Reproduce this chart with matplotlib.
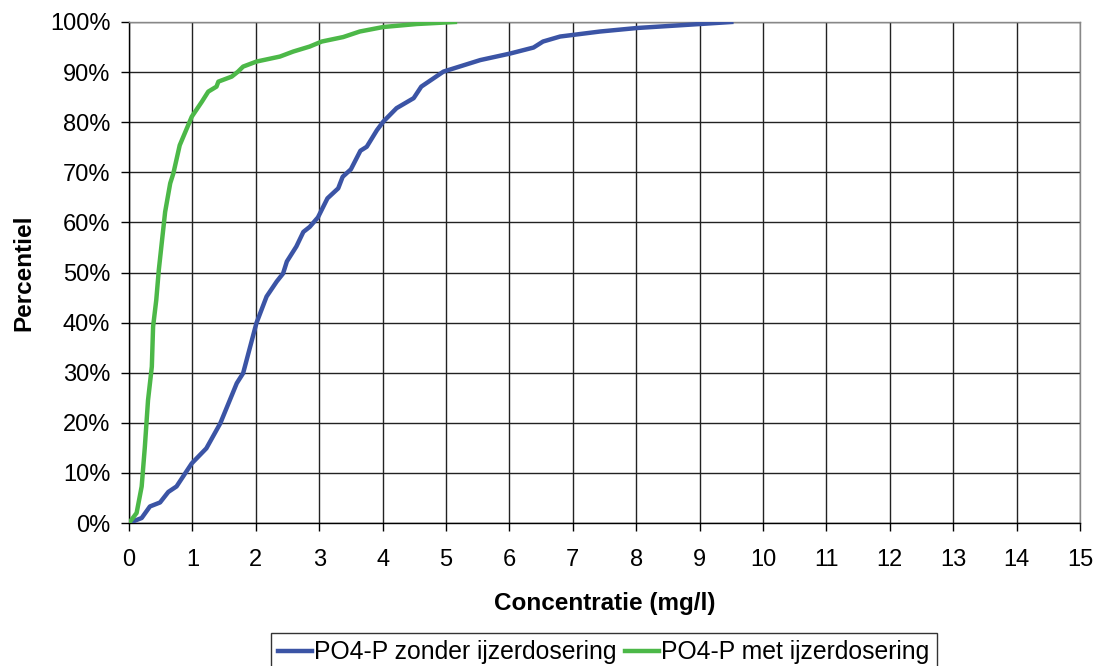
import matplotlib
matplotlib.use("Agg")
import matplotlib.pyplot as plt
from matplotlib.ticker import FuncFormatter

plt.rcParams['font.family'] = ['Liberation Sans', 'DejaVu Sans']

# Cumulative distribution of PO4-P concentration (mg/l) vs percentile (%)
zonder_conc = [0.0, 0.2, 0.33, 0.49, 0.62, 0.75, 0.99, 1.22, 1.44, 1.70, 1.80,
               2.01, 2.17, 2.33, 2.43, 2.49, 2.64, 2.75, 2.85, 2.98, 3.13, 3.30,
               3.37, 3.50, 3.65, 3.75, 3.91, 4.01, 4.22, 4.49, 4.61, 4.96, 5.54,
               6.01, 6.38, 6.53, 6.80, 7.43, 8.01, 9.01, 9.50]
zonder_pct = [0.0, 1.0, 3.3, 4.1, 6.2, 7.3, 11.9, 14.9, 19.9, 27.9, 29.9,
              39.9, 45.2, 48.2, 49.8, 52.2, 55.2, 58.1, 59.1, 61.0, 64.8, 66.8,
              69.1, 70.6, 74.3, 75.1, 78.4, 80.1, 82.8, 84.8, 87.1, 90.1, 92.4,
              93.7, 94.9, 96.1, 97.1, 98.1, 98.8, 99.6, 100.0]

met_conc = [0.0, 0.12, 0.20, 0.25, 0.30, 0.36, 0.38, 0.43, 0.47, 0.57, 0.65,
            0.70, 0.80, 0.99, 1.15, 1.25, 1.38, 1.41, 1.62, 1.72, 1.80, 2.01,
            2.38, 2.59, 2.85, 3.04, 3.38, 3.64, 4.01, 4.54, 5.14]
met_pct = [0.0, 2.0, 7.3, 15.2, 24.5, 31.2, 39.2, 44.5, 50.5, 62.1, 67.8,
           69.8, 75.4, 81.1, 84.1, 86.1, 87.1, 88.1, 89.1, 90.1, 91.1, 92.1,
           93.1, 94.1, 95.1, 96.1, 97.0, 98.1, 99.0, 99.6, 100.0]

x_ticks = list(range(0, 16))
y_ticks = list(range(0, 101, 10))

fig = plt.figure(figsize=(10.96, 6.66), dpi=100)
ax = fig.add_axes([129 / 1096, 1 - 523 / 666, (1080 - 129) / 1096, (523 - 22) / 666])

ax.plot(zonder_conc, zonder_pct, color='#3B54A5', lw=3.2, solid_joinstyle='round',
        label='PO4-P zonder ijzerdosering', zorder=3)
ax.plot(met_conc, met_pct, color='#4CB848', lw=3.2, solid_joinstyle='round',
        label='PO4-P met ijzerdosering', zorder=3)

ax.set_xlim(0, 15)
ax.set_ylim(0, 100)
ax.set_xticks(x_ticks)
ax.set_yticks(y_ticks)
ax.yaxis.set_major_formatter(FuncFormatter(lambda v, p: f"{int(v)}%"))
ax.grid(True, color='#222222', lw=1.0, zorder=1)
ax.set_axisbelow(True)

for side in ['top', 'right']:
    ax.spines[side].set_color('#888888')
    ax.spines[side].set_linewidth(1.0)
for side in ['left', 'bottom']:
    ax.spines[side].set_color('black')
    ax.spines[side].set_linewidth(1.0)

ax.tick_params(axis='both', direction='out', length=5.5, width=1, labelsize=17,
               colors='black')
ax.tick_params(axis='x', pad=13)
ax.tick_params(axis='y', pad=8)

ax.set_xlabel('Concentratie (mg/l)', fontsize=17.5, fontweight='bold', labelpad=15)
ax.set_ylabel('Percentiel', fontsize=17.5, fontweight='bold', labelpad=10)

leg = fig.legend(loc='upper center', bbox_to_anchor=(604 / 1096, 1 - 633 / 666),
                 ncol=2, fontsize=17.8, frameon=True, fancybox=False,
                 edgecolor='black', handlelength=1.35, handletextpad=0.1,
                 columnspacing=0.35, borderpad=0.3, borderaxespad=0)
leg.get_frame().set_linewidth(1.0)

fig.savefig('out.png', dpi=100)
